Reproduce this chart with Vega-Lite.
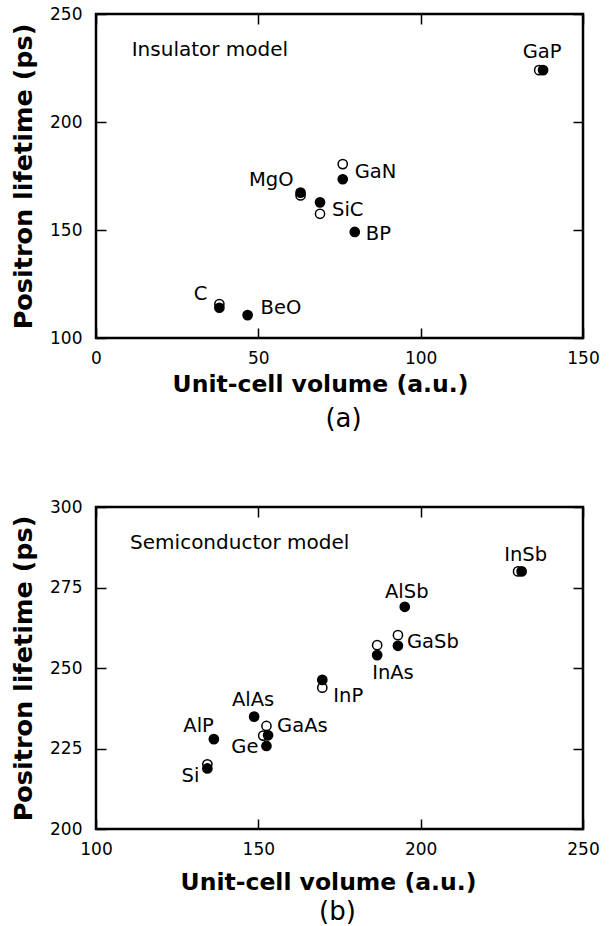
{
  "$schema": "https://vega.github.io/schema/vega-lite/v6.json",
  "padding": {"left": 10, "top": 3, "right": 5, "bottom": 5},
  "spacing": 63,
  "config": {
    "font": "DejaVu Sans",
    "view": {"stroke": "black", "strokeWidth": 2.5},
    "axis": {"domain": false, "grid": false, "tickSize": -10, "tickColor": "black", "tickWidth": 1.5, "labelColor": "black", "labelFontSize": 17, "labelFlush": false, "labelOverlap": false, "titleColor": "black", "titleFontSize": 23.5, "titleFontWeight": "bold"},
    "axisX": {"labelPadding": 22},
    "axisY": {"labelPadding": 24, "titleFontSize": 25.5},
    "title": {"fontSize": 26, "fontWeight": "normal", "color": "black"},
    "text": {"fontSize": 19.5, "baseline": "middle", "color": "black"}
  },
  "datasets": {
    "insulator": [
      {"material": "GaP", "volume": 136.5, "lifetime": 224, "series": "theory"},
      {"material": "GaN", "volume": 76, "lifetime": 180.5, "series": "theory"},
      {"material": "MgO", "volume": 63, "lifetime": 166, "series": "theory"},
      {"material": "SiC", "volume": 69, "lifetime": 157.5, "series": "theory"},
      {"material": "C", "volume": 38, "lifetime": 115.7, "series": "theory"},
      {"material": "GaP", "volume": 137.7, "lifetime": 224, "series": "experiment"},
      {"material": "GaN", "volume": 76, "lifetime": 173.5, "series": "experiment"},
      {"material": "MgO", "volume": 63, "lifetime": 167.3, "series": "experiment"},
      {"material": "SiC", "volume": 69, "lifetime": 162.8, "series": "experiment"},
      {"material": "BP", "volume": 79.7, "lifetime": 149.1, "series": "experiment"},
      {"material": "C", "volume": 38, "lifetime": 114, "series": "experiment"},
      {"material": "BeO", "volume": 46.7, "lifetime": 110.6, "series": "experiment"}
    ],
    "semiconductor": [
      {"material": "InSb", "volume": 230, "lifetime": 280, "series": "theory"},
      {"material": "GaSb", "volume": 193, "lifetime": 260.2, "series": "theory"},
      {"material": "InAs", "volume": 186.6, "lifetime": 257.1, "series": "theory"},
      {"material": "InP", "volume": 169.7, "lifetime": 243.9, "series": "theory"},
      {"material": "GaAs", "volume": 152.5, "lifetime": 232, "series": "theory"},
      {"material": "Ge", "volume": 151.5, "lifetime": 229, "series": "theory"},
      {"material": "Si", "volume": 134.3, "lifetime": 220.1, "series": "theory"},
      {"material": "InSb", "volume": 231.1, "lifetime": 280, "series": "experiment"},
      {"material": "AlSb", "volume": 195.1, "lifetime": 269, "series": "experiment"},
      {"material": "GaSb", "volume": 193, "lifetime": 256.9, "series": "experiment"},
      {"material": "InAs", "volume": 186.6, "lifetime": 254, "series": "experiment"},
      {"material": "InP", "volume": 169.7, "lifetime": 246.3, "series": "experiment"},
      {"material": "AlAs", "volume": 148.7, "lifetime": 234.9, "series": "experiment"},
      {"material": "GaAs", "volume": 153, "lifetime": 229.1, "series": "experiment"},
      {"material": "AlP", "volume": 136.3, "lifetime": 227.9, "series": "experiment"},
      {"material": "Ge", "volume": 152.5, "lifetime": 225.8, "series": "experiment"},
      {"material": "Si", "volume": 134.3, "lifetime": 218.8, "series": "experiment"}
    ]
  },
  "vconcat": [
    {
      "width": 487,
      "height": 324,
      "title": {"text": "(a)", "orient": "bottom", "offset": 10, "dx": 4},
      "resolve": {"axis": {"x": "independent", "y": "independent"}},
      "layer": [
        {
          "data": {"name": "insulator"},
          "mark": {"type": "circle", "size": 85, "stroke": "black", "strokeWidth": 1.5, "opacity": 1},
          "encoding": {
            "x": {"field": "volume", "type": "quantitative", "scale": {"domain": [0, 150], "nice": false, "zero": false}, "axis": {"orient": "bottom", "values": [0, 50, 100, 150], "title": "Unit-cell volume (a.u.)", "titleX": 224, "titlePadding": 6}},
            "y": {"field": "lifetime", "type": "quantitative", "scale": {"domain": [100, 250], "nice": false, "zero": false}, "axis": {"orient": "left", "values": [100, 150, 200, 250], "title": "Positron lifetime (ps)", "titlePadding": 13}},
            "fill": {"field": "series", "type": "nominal", "scale": {"domain": ["theory", "experiment"], "range": ["white", "black"]}, "legend": null}
          }
        },
        {
          "data": {"name": "insulator"},
          "mark": {"type": "circle", "opacity": 0},
          "encoding": {
            "x": {"field": "volume", "type": "quantitative", "scale": {"domain": [0, 150], "nice": false, "zero": false}, "axis": {"orient": "top", "values": [0, 50, 100, 150], "labels": false, "title": null}},
            "y": {"field": "lifetime", "type": "quantitative", "scale": {"domain": [100, 250], "nice": false, "zero": false}, "axis": {"orient": "right", "values": [100, 150, 200, 250], "labels": false, "title": null}}
          }
        },
        {
          "data": {"values": [{"note": "Insulator model"}]},
          "mark": {"type": "text", "align": "left", "fontSize": 20},
          "encoding": {"x": {"datum": 11, "type": "quantitative", "axis": null}, "y": {"datum": 233.3, "type": "quantitative", "axis": null}, "text": {"field": "note"}}
        },
        {
          "data": {"name": "insulator"},
          "transform": [{"filter": "datum.series == 'experiment'"}],
          "encoding": {
            "x": {"field": "volume", "type": "quantitative", "axis": null},
            "y": {"field": "lifetime", "type": "quantitative", "axis": null},
            "text": {"field": "material"}
          },
          "layer": [
            {"transform": [{"filter": "datum.material == 'GaP'"}], "mark": {"type": "text", "align": "center", "dx": -1, "dy": -18}},
            {"transform": [{"filter": "datum.material == 'GaN'"}], "mark": {"type": "text", "align": "left", "dx": 12, "dy": -7}},
            {"transform": [{"filter": "datum.material == 'MgO'"}], "mark": {"type": "text", "align": "right", "dx": -7, "dy": -13}},
            {"transform": [{"filter": "datum.material == 'SiC'"}], "mark": {"type": "text", "align": "left", "dx": 12, "dy": 8}},
            {"transform": [{"filter": "datum.material == 'BP'"}], "mark": {"type": "text", "align": "left", "dx": 11, "dy": 2}},
            {"transform": [{"filter": "datum.material == 'C'"}], "mark": {"type": "text", "align": "right", "dx": -12, "dy": -14}},
            {"transform": [{"filter": "datum.material == 'BeO'"}], "mark": {"type": "text", "align": "left", "dx": 13, "dy": -7}}
          ]
        }
      ]
    },
    {
      "width": 487,
      "height": 322,
      "title": {"text": "(b)", "orient": "bottom", "offset": 5, "dx": -2},
      "resolve": {"axis": {"x": "independent", "y": "independent"}},
      "layer": [
        {
          "data": {"name": "semiconductor"},
          "mark": {"type": "circle", "size": 85, "stroke": "black", "strokeWidth": 1.5, "opacity": 1},
          "encoding": {
            "x": {"field": "volume", "type": "quantitative", "scale": {"domain": [100, 250], "nice": false, "zero": false}, "axis": {"orient": "bottom", "values": [100, 150, 200, 250], "title": "Unit-cell volume (a.u.)", "titleX": 232, "titlePadding": 13}},
            "y": {"field": "lifetime", "type": "quantitative", "scale": {"domain": [200, 300], "nice": false, "zero": false}, "axis": {"orient": "left", "values": [200, 225, 250, 275, 300], "title": "Positron lifetime (ps)", "titlePadding": 13}},
            "fill": {"field": "series", "type": "nominal", "scale": {"domain": ["theory", "experiment"], "range": ["white", "black"]}, "legend": null}
          }
        },
        {
          "data": {"name": "semiconductor"},
          "mark": {"type": "circle", "opacity": 0},
          "encoding": {
            "x": {"field": "volume", "type": "quantitative", "scale": {"domain": [100, 250], "nice": false, "zero": false}, "axis": {"orient": "top", "values": [100, 150, 200, 250], "labels": false, "title": null}},
            "y": {"field": "lifetime", "type": "quantitative", "scale": {"domain": [200, 300], "nice": false, "zero": false}, "axis": {"orient": "right", "values": [200, 225, 250, 275, 300], "labels": false, "title": null}}
          }
        },
        {
          "data": {"values": [{"note": "Semiconductor model"}]},
          "mark": {"type": "text", "align": "left", "fontSize": 20},
          "encoding": {"x": {"datum": 110.5, "type": "quantitative", "axis": null}, "y": {"datum": 288.9, "type": "quantitative", "axis": null}, "text": {"field": "note"}}
        },
        {
          "data": {"name": "semiconductor"},
          "transform": [{"filter": "datum.series == 'experiment'"}],
          "encoding": {
            "x": {"field": "volume", "type": "quantitative", "axis": null},
            "y": {"field": "lifetime", "type": "quantitative", "axis": null},
            "text": {"field": "material"}
          },
          "layer": [
            {"transform": [{"filter": "datum.material == 'InSb'"}], "mark": {"type": "text", "align": "center", "dx": 4, "dy": -16}},
            {"transform": [{"filter": "datum.material == 'AlSb'"}], "mark": {"type": "text", "align": "center", "dx": 2, "dy": -15}},
            {"transform": [{"filter": "datum.material == 'GaSb'"}], "mark": {"type": "text", "align": "left", "dx": 9, "dy": -4}},
            {"transform": [{"filter": "datum.material == 'InAs'"}], "mark": {"type": "text", "align": "left", "dx": -5, "dy": 18}},
            {"transform": [{"filter": "datum.material == 'InP'"}], "mark": {"type": "text", "align": "left", "dx": 11, "dy": 16}},
            {"transform": [{"filter": "datum.material == 'AlAs'"}], "mark": {"type": "text", "align": "center", "dx": -1, "dy": -17}},
            {"transform": [{"filter": "datum.material == 'GaAs'"}], "mark": {"type": "text", "align": "left", "dx": 9, "dy": -9}},
            {"transform": [{"filter": "datum.material == 'AlP'"}], "mark": {"type": "text", "align": "right", "dx": 0, "dy": -13}},
            {"transform": [{"filter": "datum.material == 'Ge'"}], "mark": {"type": "text", "align": "right", "dx": -8, "dy": 1}},
            {"transform": [{"filter": "datum.material == 'Si'"}], "mark": {"type": "text", "align": "right", "dx": -8, "dy": 8}}
          ]
        }
      ]
    }
  ]
}
